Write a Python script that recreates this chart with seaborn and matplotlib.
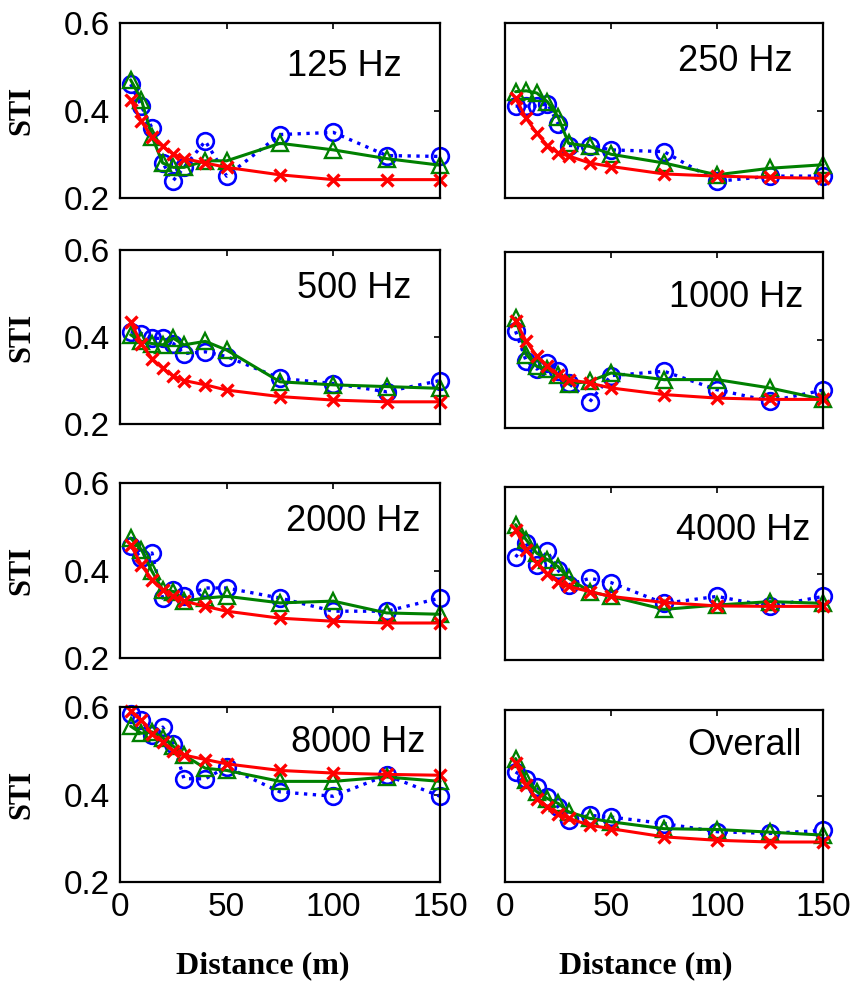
import matplotlib
matplotlib.use("Agg")
import matplotlib.pyplot as plt
import seaborn as sns
import numpy as np

sns.set_style("white")
plt.rcParams["font.family"] = ["Liberation Sans", "DejaVu Sans"]
plt.rcParams["text.color"] = "black"
plt.rcParams["axes.labelcolor"] = "black"

distance = [5, 10, 15, 20, 25, 30, 40, 50, 75, 100, 125, 150]
panel_names = ["125 Hz", "250 Hz", "500 Hz", "1000 Hz",
               "2000 Hz", "4000 Hz", "8000 Hz", "Overall"]

blue_125 = [0.46, 0.41, 0.36, 0.28, 0.24, 0.27, 0.33, 0.25, 0.345, 0.35, 0.297, 0.295]
green_125 = [0.47, 0.425, 0.34, 0.28, 0.27, 0.27, 0.285, 0.285, 0.325, 0.31, 0.29, 0.275]
red_125 = [0.425, 0.375, 0.34, 0.318, 0.30, 0.29, 0.28, 0.27, 0.253, 0.242, 0.242, 0.242]

blue_250 = [0.41, 0.41, 0.41, 0.416, 0.37, 0.32, 0.32, 0.31, 0.306, 0.238, 0.25, 0.25]
green_250 = [0.443, 0.445, 0.44, 0.42, 0.386, 0.325, 0.318, 0.30, 0.28, 0.253, 0.268, 0.276]
red_250 = [0.428, 0.382, 0.348, 0.32, 0.303, 0.296, 0.28, 0.272, 0.255, 0.25, 0.247, 0.245]

blue_500 = [0.412, 0.408, 0.397, 0.397, 0.385, 0.362, 0.366, 0.355, 0.305, 0.293, 0.274, 0.30]
green_500 = [0.405, 0.39, 0.385, 0.382, 0.397, 0.382, 0.39, 0.37, 0.297, 0.29, 0.286, 0.282]
red_500 = [0.435, 0.385, 0.35, 0.328, 0.31, 0.30, 0.29, 0.278, 0.263, 0.255, 0.251, 0.251]

blue_1000 = [0.42, 0.352, 0.334, 0.348, 0.329, 0.302, 0.26, 0.319, 0.329, 0.287, 0.261, 0.286]
green_1000 = [0.45, 0.367, 0.34, 0.333, 0.321, 0.30, 0.306, 0.325, 0.31, 0.31, 0.291, 0.265]
red_1000 = [0.443, 0.397, 0.363, 0.34, 0.321, 0.31, 0.302, 0.291, 0.276, 0.268, 0.265, 0.265]

blue_2000 = [0.455, 0.429, 0.44, 0.337, 0.356, 0.341, 0.36, 0.36, 0.337, 0.307, 0.307, 0.337]
green_2000 = [0.474, 0.448, 0.398, 0.356, 0.352, 0.33, 0.337, 0.341, 0.326, 0.33, 0.303, 0.30]
red_2000 = [0.459, 0.413, 0.379, 0.356, 0.341, 0.33, 0.318, 0.307, 0.291, 0.284, 0.28, 0.28]

blue_4000 = [0.438, 0.47, 0.42, 0.451, 0.408, 0.374, 0.389, 0.379, 0.331, 0.347, 0.324, 0.347]
green_4000 = [0.513, 0.478, 0.447, 0.432, 0.416, 0.389, 0.358, 0.347, 0.317, 0.327, 0.335, 0.331]
red_4000 = [0.501, 0.455, 0.424, 0.40, 0.381, 0.37, 0.358, 0.347, 0.333, 0.325, 0.324, 0.324]

blue_8000 = [0.585, 0.57, 0.535, 0.554, 0.516, 0.436, 0.436, 0.463, 0.406, 0.396, 0.444, 0.396]
green_8000 = [0.556, 0.54, 0.543, 0.53, 0.51, 0.49, 0.46, 0.455, 0.43, 0.43, 0.44, 0.43]
red_8000 = [0.592, 0.57, 0.539, 0.52, 0.50, 0.49, 0.48, 0.47, 0.455, 0.449, 0.446, 0.444]

blue_overall = [0.456, 0.44, 0.421, 0.398, 0.375, 0.344, 0.355, 0.351, 0.336, 0.317, 0.313, 0.32]
green_overall = [0.487, 0.437, 0.41, 0.394, 0.383, 0.363, 0.348, 0.34, 0.324, 0.322, 0.316, 0.309]
red_overall = [0.476, 0.425, 0.394, 0.375, 0.359, 0.348, 0.332, 0.324, 0.305, 0.297, 0.293, 0.293]

blue_series = [blue_125, blue_250, blue_500, blue_1000, blue_2000, blue_4000, blue_8000, blue_overall]
green_series = [green_125, green_250, green_500, green_1000, green_2000, green_4000, green_8000, green_overall]
red_series = [red_125, red_250, red_500, red_1000, red_2000, red_4000, red_8000, red_overall]

x_ticks = [0, 50, 100, 150]
y_ticks = [0.2, 0.4, 0.6]
y_tick_labels = ["0.2", "0.4", "0.6"]

W, H = 858, 988
fig = plt.figure(figsize=(W / 100, H / 100), dpi=100)

col_x = [(120, 440), (505, 823)]
row_y = [[(23, 198), (250, 424), (483, 658), (707, 882)],
         [(23, 198), (252, 428), (487, 660), (710, 882)]]
label_pos = [(0.88, 0.75), (0.905, 0.78), (0.91, 0.776), (0.937, 0.74),
             (0.94, 0.78), (0.96, 0.746), (0.953, 0.80), (0.934, 0.796)]

for i in range(8):
    r, c = divmod(i, 2)
    x0, x1 = col_x[c]
    y0, y1 = row_y[c][r]
    ax = fig.add_axes([x0 / W, 1 - y1 / H, (x1 - x0) / W, (y1 - y0) / H])
    sns.lineplot(x=distance, y=blue_series[i], ax=ax, color="#0000ff",
                 linestyle=":", linewidth=2.4, marker="o", markersize=12,
                 markerfacecolor="none", markeredgecolor="#0000ff",
                 markeredgewidth=1.9, clip_on=False)
    sns.lineplot(x=distance, y=green_series[i], ax=ax, color="#008000",
                 linestyle="-", linewidth=2.2, marker="^", markersize=11,
                 markerfacecolor="none", markeredgecolor="#008000",
                 markeredgewidth=1.7, clip_on=False)
    sns.lineplot(x=distance, y=red_series[i], ax=ax, color="#ff0000",
                 linestyle="-", linewidth=2.2, marker="x", markersize=9,
                 markerfacecolor="none", markeredgecolor="#ff0000",
                 markeredgewidth=2.4, clip_on=False)
    ax.set_xlim(0, 150)
    ax.set_ylim(0.2, 0.6)
    ax.set_xticks(x_ticks)
    ax.set_yticks(y_ticks)
    ax.tick_params(direction="in", length=4, width=1.2, top=True, right=True,
                   labelsize=24, pad=7, colors="black")
    if c == 0:
        ax.set_yticklabels(y_tick_labels)
        ax.set_ylabel("STI", fontsize=22, fontweight="bold", color="black",
                      family=["Liberation Serif", "DejaVu Serif"], labelpad=20)
    else:
        ax.set_yticklabels([])
        ax.set_ylabel("")
    if r == 3:
        ax.set_xticklabels([str(v) for v in x_ticks])
    else:
        ax.set_xticklabels([])
    ax.set_xlabel("")
    for sp in ax.spines.values():
        sp.set_linewidth(1.6)
        sp.set_color("black")
    lx, ly = label_pos[i]
    ax.text(lx, ly, panel_names[i], transform=ax.transAxes, ha="right",
            va="center", fontsize=26, color="black")

for cx in (263, 646):
    fig.text(cx / W, 1 - 966 / H, "Distance (m)", ha="center", va="center",
             fontsize=23, fontweight="bold", color="black",
             family=["Liberation Serif", "DejaVu Serif"])

fig.savefig("out.png", dpi=100)
